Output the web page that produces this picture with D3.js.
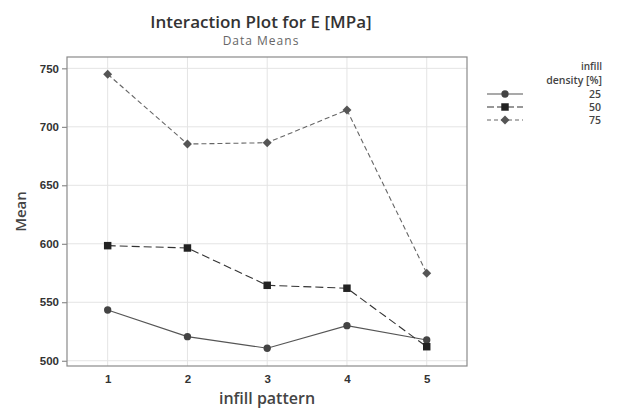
<!DOCTYPE html>
<html>
<head>
<meta charset="utf-8">
<script src="https://cdn.jsdelivr.net/npm/d3@7"></script>
<style>
  body { margin: 0; background: #fff; }
  svg { font-family: "Open Sans", "Noto Sans", sans-serif; }
</style>
</head>
<body>
<div id="chart"></div>
<script>
// data
const patterns = [1, 2, 3, 4, 5];
const densities = ["25", "50", "75"];
const mean25 = [543.4, 520.6, 510.7, 530.0, 517.8];
const mean50 = [598.4, 596.4, 564.5, 562.0, 512.0];
const mean75 = [745.0, 685.3, 686.4, 714.4, 574.8];
const yTicks = [500, 550, 600, 650, 700, 750];

const svgWidth = 619;
const svgHeight = 409;
const margin = { top: 57, right: 152, bottom: 43, left: 67 };
const width = svgWidth - margin.left - margin.right;
const height = svgHeight - margin.top - margin.bottom;

const svg = d3.select("#chart").append("svg")
  .attr("width", svgWidth)
  .attr("height", svgHeight);

const chartGroup = svg.append("g")
  .attr("transform", `translate(${margin.left}, ${margin.top})`);

const x = d3.scaleLinear().domain([0.49, 5.505]).range([0, width]);
const y = d3.scaleLinear().domain([495.5, 759.7]).range([height, 0]);

// grid
chartGroup.selectAll(".vgrid").data(patterns).enter().append("line")
  .attr("x1", d => x(d)).attr("x2", d => x(d))
  .attr("y1", 0).attr("y2", height)
  .attr("stroke", "#e4e4e4").attr("stroke-width", 1);
chartGroup.selectAll(".hgrid").data(yTicks).enter().append("line")
  .attr("x1", 0).attr("x2", width)
  .attr("y1", d => y(d)).attr("y2", d => y(d))
  .attr("stroke", "#e4e4e4").attr("stroke-width", 1);

// axes
const bottomAxis = d3.axisBottom(x).tickValues(patterns).tickFormat(d3.format("d"))
  .tickSize(0).tickPadding(9);
const leftAxis = d3.axisLeft(y).tickValues(yTicks).tickSize(5).tickPadding(3);

const xAxis = chartGroup.append("g")
  .attr("transform", `translate(0, ${height})`)
  .call(bottomAxis);
const yAxis = chartGroup.append("g").call(leftAxis);

[xAxis, yAxis].forEach(a => {
  a.select(".domain").remove();
  a.selectAll("line").attr("stroke", "#777");
  a.selectAll("text")
    .attr("fill", "#333")
    .style("font-size", "11.5px")
    .style("font-weight", "600");
});

// frame
chartGroup.append("rect")
  .attr("width", width).attr("height", height)
  .attr("fill", "none").attr("stroke", "#8a8a8a").attr("stroke-width", 1.2);

const series = [
  { key: "25", values: mean25, dash: null, legendDash: null, color: "#555", mark: d3.symbolCircle, markColor: "#444", size: 42, rot: 0 },
  { key: "50", values: mean50, dash: "8,4", legendDash: "7,3", color: "#333", mark: d3.symbolSquare, markColor: "#222", size: 56, rot: 0 },
  { key: "75", values: mean75, dash: "5,3", legendDash: "4,3", color: "#666", mark: d3.symbolSquare, markColor: "#555", size: 40, rot: 45 }
];

const line = d3.line().x((d, i) => x(patterns[i])).y(d => y(d));

series.forEach(s => {
  chartGroup.append("path")
    .datum(s.values)
    .attr("d", line)
    .attr("fill", "none")
    .attr("stroke", s.color)
    .attr("stroke-width", 1.1)
    .attr("stroke-dasharray", s.dash);
  chartGroup.selectAll(null).data(s.values).enter().append("path")
    .attr("d", d3.symbol().type(s.mark).size(s.size))
    .attr("transform", (d, i) => `translate(${x(patterns[i])}, ${y(d)}) rotate(${s.rot})`)
    .attr("fill", s.markColor);
});

// titles
svg.append("text")
  .attr("x", 261).attr("y", 28)
  .attr("text-anchor", "middle")
  .attr("fill", "#333")
  .style("font-size", "17px")
  .style("font-weight", "600")
  .text("Interaction Plot for E [MPa]");
svg.append("text")
  .attr("x", 261).attr("y", 45)
  .attr("text-anchor", "middle")
  .attr("fill", "#666")
  .style("font-size", "12px")
  .style("letter-spacing", "1px")
  .text("Data Means");

svg.append("text")
  .attr("transform", `translate(26, ${margin.top + height / 2}) rotate(-90)`)
  .attr("text-anchor", "middle")
  .attr("fill", "#444")
  .style("font-size", "15px")
  .style("font-weight", "600")
  .text("Mean");
svg.append("text")
  .attr("x", margin.left + width / 2).attr("y", 404)
  .attr("text-anchor", "middle")
  .attr("fill", "#444")
  .style("font-size", "16px")
  .style("font-weight", "600")
  .text("infill pattern");

// legend
const legend = svg.append("g");
legend.append("text").attr("x", 602).attr("y", 70)
  .attr("text-anchor", "end").attr("fill", "#444")
  .style("font-size", "10px").style("font-weight", "600")
  .text("infill");
legend.append("text").attr("x", 602).attr("y", 84)
  .attr("text-anchor", "end").attr("fill", "#444")
  .style("font-size", "10.5px").style("font-weight", "600")
  .text("density [%]");

series.forEach((s, i) => {
  const ly = 94 + i * 13;
  legend.append("line")
    .attr("x1", 487).attr("x2", 523)
    .attr("y1", ly).attr("y2", ly)
    .attr("stroke", s.color).attr("stroke-width", 1.1)
    .attr("stroke-dasharray", s.legendDash);
  legend.append("path")
    .attr("d", d3.symbol().type(s.mark).size(s.size))
    .attr("transform", `translate(505, ${ly}) rotate(${s.rot})`)
    .attr("fill", s.markColor);
  legend.append("text")
    .attr("x", 601).attr("y", ly + 3.5)
    .attr("text-anchor", "end").attr("fill", "#444")
    .style("font-size", "10.5px").style("font-weight", "600")
    .text(densities[i]);
});
</script>
</body>
</html>
